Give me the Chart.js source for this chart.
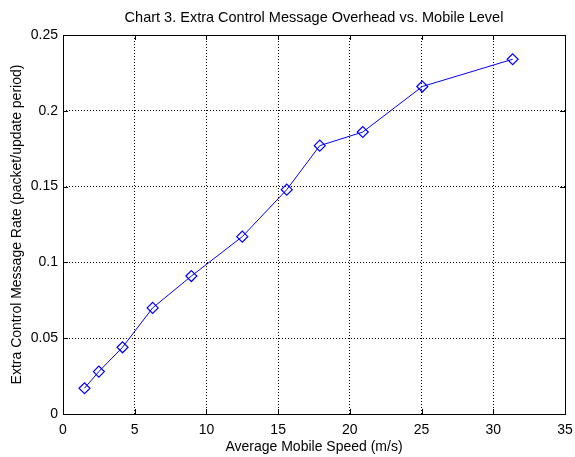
<!DOCTYPE html>
<html>
<head>
<meta charset="utf-8">
<script src="https://cdn.jsdelivr.net/npm/chart.js@4"></script>
<style>
  html, body { margin: 0; padding: 0; background: #fff; }
  #wrap { width: 575px; height: 457px; }
</style>
</head>
<body>
<div id="wrap"><canvas id="c" width="575" height="457"></canvas></div>
<script>
// average mobile speed (m/s) and extra control message rate
const speeds = [1.5, 2.5, 4.15, 6.25, 8.95, 12.5, 15.6, 17.9, 20.9, 25.05, 31.35];
const rates  = [0.017, 0.028, 0.044, 0.070, 0.091, 0.117, 0.148, 0.177, 0.186, 0.216, 0.234];
const xTicks = [0, 5, 10, 15, 20, 25, 30, 35];
const yTicks = [0, 0.05, 0.1, 0.15, 0.2, 0.25];

const FONT = 'Liberation Sans, Arial, sans-serif';
const FS = 14;
const BLUE = '#0000ff';

// matlab-style box, inward ticks and title
const boxPlugin = {
  id: 'box',
  afterDraw(chart) {
    const { ctx, chartArea: a, scales } = chart;
    ctx.save();
    ctx.strokeStyle = '#000';
    ctx.lineWidth = 1;
    ctx.setLineDash([]);
    ctx.beginPath();
    xTicks.forEach(v => {
      const px = Math.round(scales.x.getPixelForValue(v)) + 0.5;
      ctx.moveTo(px, a.bottom); ctx.lineTo(px, a.bottom - 5);
      ctx.moveTo(px, a.top); ctx.lineTo(px, a.top + 5);
    });
    yTicks.forEach(v => {
      const py = Math.round(scales.y.getPixelForValue(v)) + 0.5;
      ctx.moveTo(a.left, py); ctx.lineTo(a.left + 5, py);
      ctx.moveTo(a.right, py); ctx.lineTo(a.right - 5, py);
    });
    ctx.stroke();
    ctx.strokeRect(Math.round(a.left) + 0.5, Math.round(a.top) + 0.5,
                   Math.round(a.right - a.left), Math.round(a.bottom - a.top));
    ctx.fillStyle = '#000';
    ctx.font = '14.5px ' + FONT;
    ctx.textAlign = 'center';
    ctx.textBaseline = 'middle';
    ctx.fillText('Chart 3. Extra Control Message Overhead vs. Mobile Level', (a.left + a.right) / 2, 18);
    ctx.restore();
  }
};

new Chart(document.getElementById('c'), {
  type: 'scatter',
  data: {
    datasets: [{
      data: speeds.map((s, i) => ({ x: s, y: rates[i] })),
      showLine: true,
      borderColor: BLUE,
      borderWidth: 1,
      pointStyle: 'rectRot',
      pointRadius: 5.5,
      pointBorderWidth: 1.2,
      pointBorderColor: BLUE,
      pointBackgroundColor: 'rgba(255,255,255,0)',
      tension: 0,
    }],
  },
  options: {
    responsive: false,
    animation: false,
    devicePixelRatio: 1,
    layout: { padding: { top: 35, right: 10, left: 0, bottom: 0 } },
    plugins: { legend: { display: false }, tooltip: { enabled: false } },
    scales: {
      x: {
        type: 'linear', min: 0, max: 35,
        afterBuildTicks: s => { s.ticks = xTicks.map(v => ({ value: v })); },
        afterFit: s => { s.height = 43; s.paddingLeft = 0; s.paddingRight = 0; },
        grid: { color: '#000', lineWidth: 1, drawTicks: false },
        border: { display: false, dash: [1, 2] },
        ticks: { color: '#000', font: { family: FONT, size: FS }, padding: 8, maxRotation: 0 },
        title: { display: true, text: 'Average Mobile Speed (m/s)', color: '#000',
                 font: { family: FONT, size: FS }, padding: { top: 2, bottom: 1 } },
      },
      y: {
        type: 'linear', min: 0, max: 0.25,
        afterBuildTicks: s => { s.ticks = yTicks.map(v => ({ value: v })); },
        afterFit: s => { s.width = 63; },
        grid: { color: '#000', lineWidth: 1, drawTicks: false },
        border: { display: false, dash: [1, 2] },
        ticks: { color: '#000', font: { family: FONT, size: FS }, padding: 5,
                 callback: v => String(+v.toFixed(2)) },
        title: { display: true, text: 'Extra Control Message Rate (packet/update period)', color: '#000',
                 font: { family: FONT, size: FS }, padding: { top: 9, bottom: 4 } },
      },
    },
  },
  plugins: [boxPlugin],
});
</script>
</body>
</html>
